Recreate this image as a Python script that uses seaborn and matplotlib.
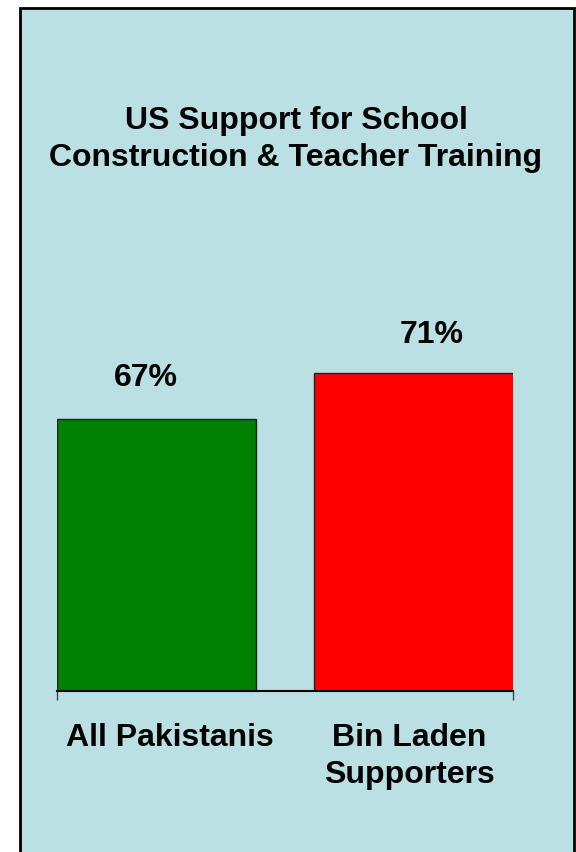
import matplotlib
matplotlib.use('Agg')
import matplotlib.pyplot as plt
import matplotlib.transforms as mtransforms
from matplotlib.patches import Rectangle
import pandas as pd
import seaborn as sns

# данные
groups = ['All Pakistanis', 'Bin Laden\nSupporters']
support = [67, 71]
bar_colors = ['#008000', '#FF0000']
title = 'US Support for School\nConstruction & Teacher Training'

df = pd.DataFrame({'group': groups, 'support': support})

plt.rcParams['font.family'] = ['Liberation Sans', 'DejaVu Sans']
plt.rcParams['font.weight'] = 'bold'

W, H = 576, 852
fig = plt.figure(figsize=(W / 100, H / 100), dpi=100)

# светло-голубая рамка-фон
bg = Rectangle((20 / W, -0.02), 554 / W, 1.02 - 8 / H, transform=fig.transFigure,
               facecolor='#BAE0E3', edgecolor='black', linewidth=2, zorder=-10)
fig.add_artist(bg)

ax = fig.add_axes([57 / W, 1 - 691 / H, (513 - 57) / W, (691 - 39.5) / H])
ax.set_facecolor('none')
ax.set_zorder(5)

sns.barplot(data=df, x='group', y='support', hue='group', palette=bar_colors,
            saturation=1, width=0.773, edgecolor='#222222', linewidth=1,
            legend=False, ax=ax)

ax.set_xlim(-0.3864, 1.3845)
ax.set_ylim(43.35, 100)

for s in ['top', 'right', 'left']:
    ax.spines[s].set_visible(False)
ax.spines['bottom'].set_linewidth(1.5)
ax.spines['bottom'].set_color('black')
ax.set_yticks([])
ax.set_xlabel('')
ax.set_ylabel('')

ax.tick_params(axis='x', length=0, pad=23, labelsize=23)
ax.set_xticks([-0.3855, 1.3836], minor=True)
ax.tick_params(axis='x', which='minor', length=6.5, width=1, color='#444444')

# небольшие сдвиги подписей как в оригинале
tick_shifts = [13.5, -5]
for lab, dx in zip(ax.get_xticklabels(), tick_shifts):
    lab.set_fontweight('bold')
    lab.set_multialignment('center')
    lab.set_linespacing(1.3)
    lab.set_transform(lab.get_transform() + mtransforms.ScaledTranslation(dx / 100, 0, fig.dpi_scale_trans))

label_offsets = [(-10.5, 33), (17.5, 30)]
for i, (v, off) in enumerate(zip(support, label_offsets)):
    ax.annotate(f'{v}%', xy=(i, v), xytext=off, textcoords='offset pixels',
                ha='center', va='baseline', fontsize=23, fontweight='bold')

fig.text(296 / W, 1 - 106 / H, title, ha='center', va='top', fontsize=23,
         fontweight='bold', linespacing=1.3)

plt.savefig('out.png', dpi=100)
